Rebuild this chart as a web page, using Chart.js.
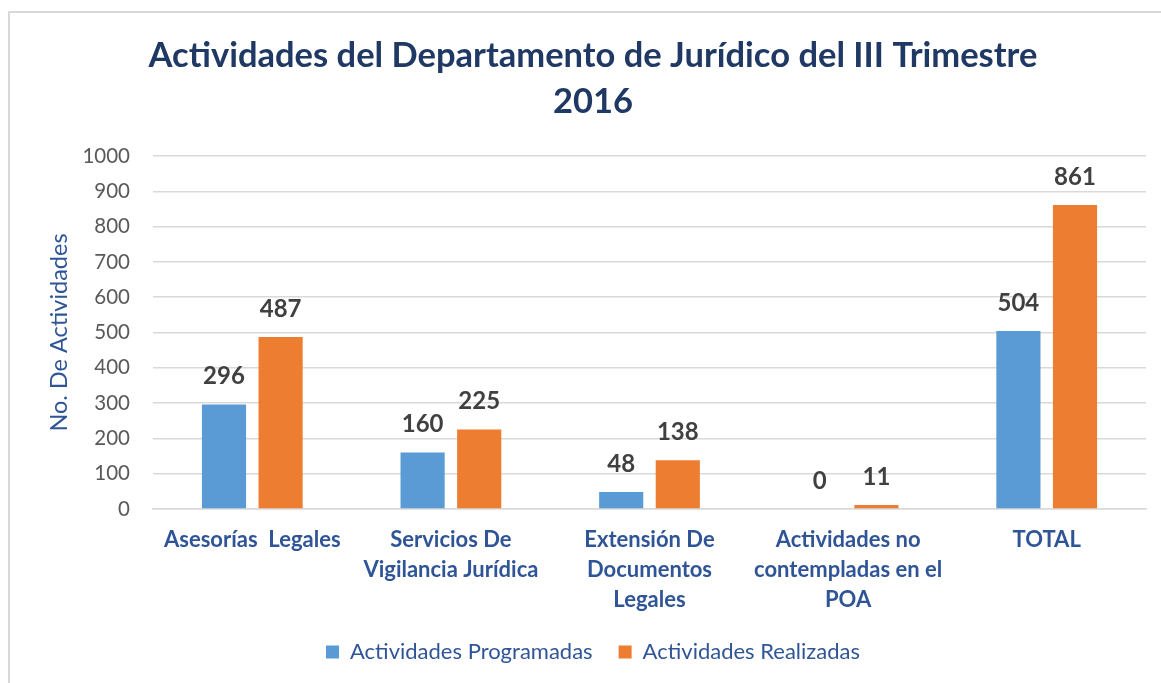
<!DOCTYPE html>
<html><head><meta charset="utf-8">
<script src="https://cdn.jsdelivr.net/npm/chart.js@4/dist/chart.umd.min.js"></script>
<style>
html,body{margin:0;padding:0;background:#fff;overflow:hidden;}
#frame{position:absolute;left:8px;top:11px;width:1170px;height:700px;border:2px solid #D9D9D9;}
#wrap{position:absolute;left:0;top:0;width:1161px;height:683px;}
</style></head><body>
<div id="frame"></div>
<div id="wrap"><canvas id="c" width="1161" height="683"></canvas></div>
<script>
// ---- data ----
const titleLines = ['Actividades del Departamento de Jurídico del III Trimestre', '2016'];
const categories = [
  'Asesorías  Legales',
  ['Servicios De', 'Vigilancia Jurídica'],
  ['Extensión De', 'Documentos', 'Legales'],
  ['Actividades no', 'contempladas en el', 'POA'],
  'TOTAL'
];
const seriesNames = ['Actividades Programadas', 'Actividades Realizadas'];
const programadas = [296, 160, 48, 0, 504];
const realizadas = [487, 225, 138, 11, 861];
const yMin = 0, yMax = 1000, yStep = 100;
const yAxisTitle = 'No. De Actividades';

// ---- styling helpers ----
const FAMILY = "Lato, 'Open Sans', sans-serif";
const mctx = document.createElement('canvas').getContext('2d');
function fit(text, weight, target) {
  mctx.font = weight + ' 100px ' + FAMILY;
  const w = mctx.measureText(text).width;
  return Math.round(100 * target / w * 2) / 2;
}
const titleSize = Math.min(38, fit(titleLines[0], 'bold', 894));
const xSize = fit('Asesorías  Legales', 'bold', 178);
const tickSize = fit('1000', 'normal', 47);
const valSize = fit('296', 'bold', 42);
const legendSize = fit(seriesNames[0], 'normal', 244);
const yTitleSize = fit(yAxisTitle, 'normal', 200);

const PAD_LEFT = 40;
const PLOT_LEFT = 153, PLOT_BOTTOM = 509;
const LEG_CENTER = 652, LEG_PAD = 26;
const itemH = Math.max(legendSize, 13);
const legendTop = LEG_CENTER - LEG_PAD - itemH / 2;
const xAxisH = legendTop - PLOT_BOTTOM;
const legendH = itemH + LEG_PAD + 10;
const padBottom = Math.max(0, 683 - legendTop - legendH);

const valueLabels = {
  id: 'valueLabels',
  afterDatasetsDraw(chart) {
    const ctx = chart.ctx;
    ctx.save();
    ctx.font = 'bold ' + valSize + 'px ' + FAMILY;
    ctx.fillStyle = '#404040';
    ctx.textAlign = 'center';
    ctx.textBaseline = 'middle';
    chart.data.datasets.forEach((ds, i) => {
      chart.getDatasetMeta(i).data.forEach((bar, j) => {
        ctx.fillText(String(ds.data[j]), bar.x, bar.y - 28);
      });
    });
    ctx.restore();
  }
};

new Chart(document.getElementById('c'), {
  type: 'bar',
  data: {
    labels: categories,
    datasets: [
      { label: seriesNames[0], data: programadas, backgroundColor: '#5B9BD5', borderWidth: 0,
        categoryPercentage: 0.57, barPercentage: 0.78 },
      { label: seriesNames[1], data: realizadas, backgroundColor: '#ED7D31', borderWidth: 0,
        categoryPercentage: 0.57, barPercentage: 0.78 }
    ]
  },
  options: {
    responsive: false,
    animation: false,
    layout: { padding: { left: PAD_LEFT, right: 15, top: 0, bottom: padBottom } },
    plugins: {
      title: {
        display: true,
        text: titleLines,
        color: '#1F3864',
        font: { family: FAMILY, size: titleSize, weight: 'bold', lineHeight: '46px' },
        padding: { top: 33, bottom: 31 }
      },
      legend: {
        position: 'bottom',
        labels: {
          color: '#2F5597',
          font: { family: FAMILY, size: legendSize },
          boxWidth: 13, boxHeight: 13,
          padding: LEG_PAD
        }
      },
      tooltip: { enabled: false }
    },
    scales: {
      x: {
        grid: { display: false, drawTicks: false },
        border: { display: true, color: '#D9D9D9', width: 1.5 },
        ticks: {
          color: '#2F5597',
          font: { family: FAMILY, size: xSize, weight: 'bold', lineHeight: '30px' },
          padding: 16, maxRotation: 0, minRotation: 0, autoSkip: false
        },
        afterFit(scale) { scale.height = xAxisH; }
      },
      y: {
        min: yMin, max: yMax,
        grid: { color: '#D9D9D9', lineWidth: 1.5, drawTicks: false },
        border: { display: false },
        ticks: {
          stepSize: yStep,
          color: '#595959',
          font: { family: FAMILY, size: tickSize },
          padding: 23,
          callback: (v) => String(v)
        },
        title: {
          display: true,
          text: yAxisTitle,
          color: '#2F5597',
          font: { family: FAMILY, size: yTitleSize, lineHeight: '24px' },
          padding: { top: 59 - PAD_LEFT - 12, bottom: 0 }
        },
        afterFit(scale) { scale.width = PLOT_LEFT - PAD_LEFT; }
      }
    }
  },
  plugins: [valueLabels]
});
</script>
</body></html>
